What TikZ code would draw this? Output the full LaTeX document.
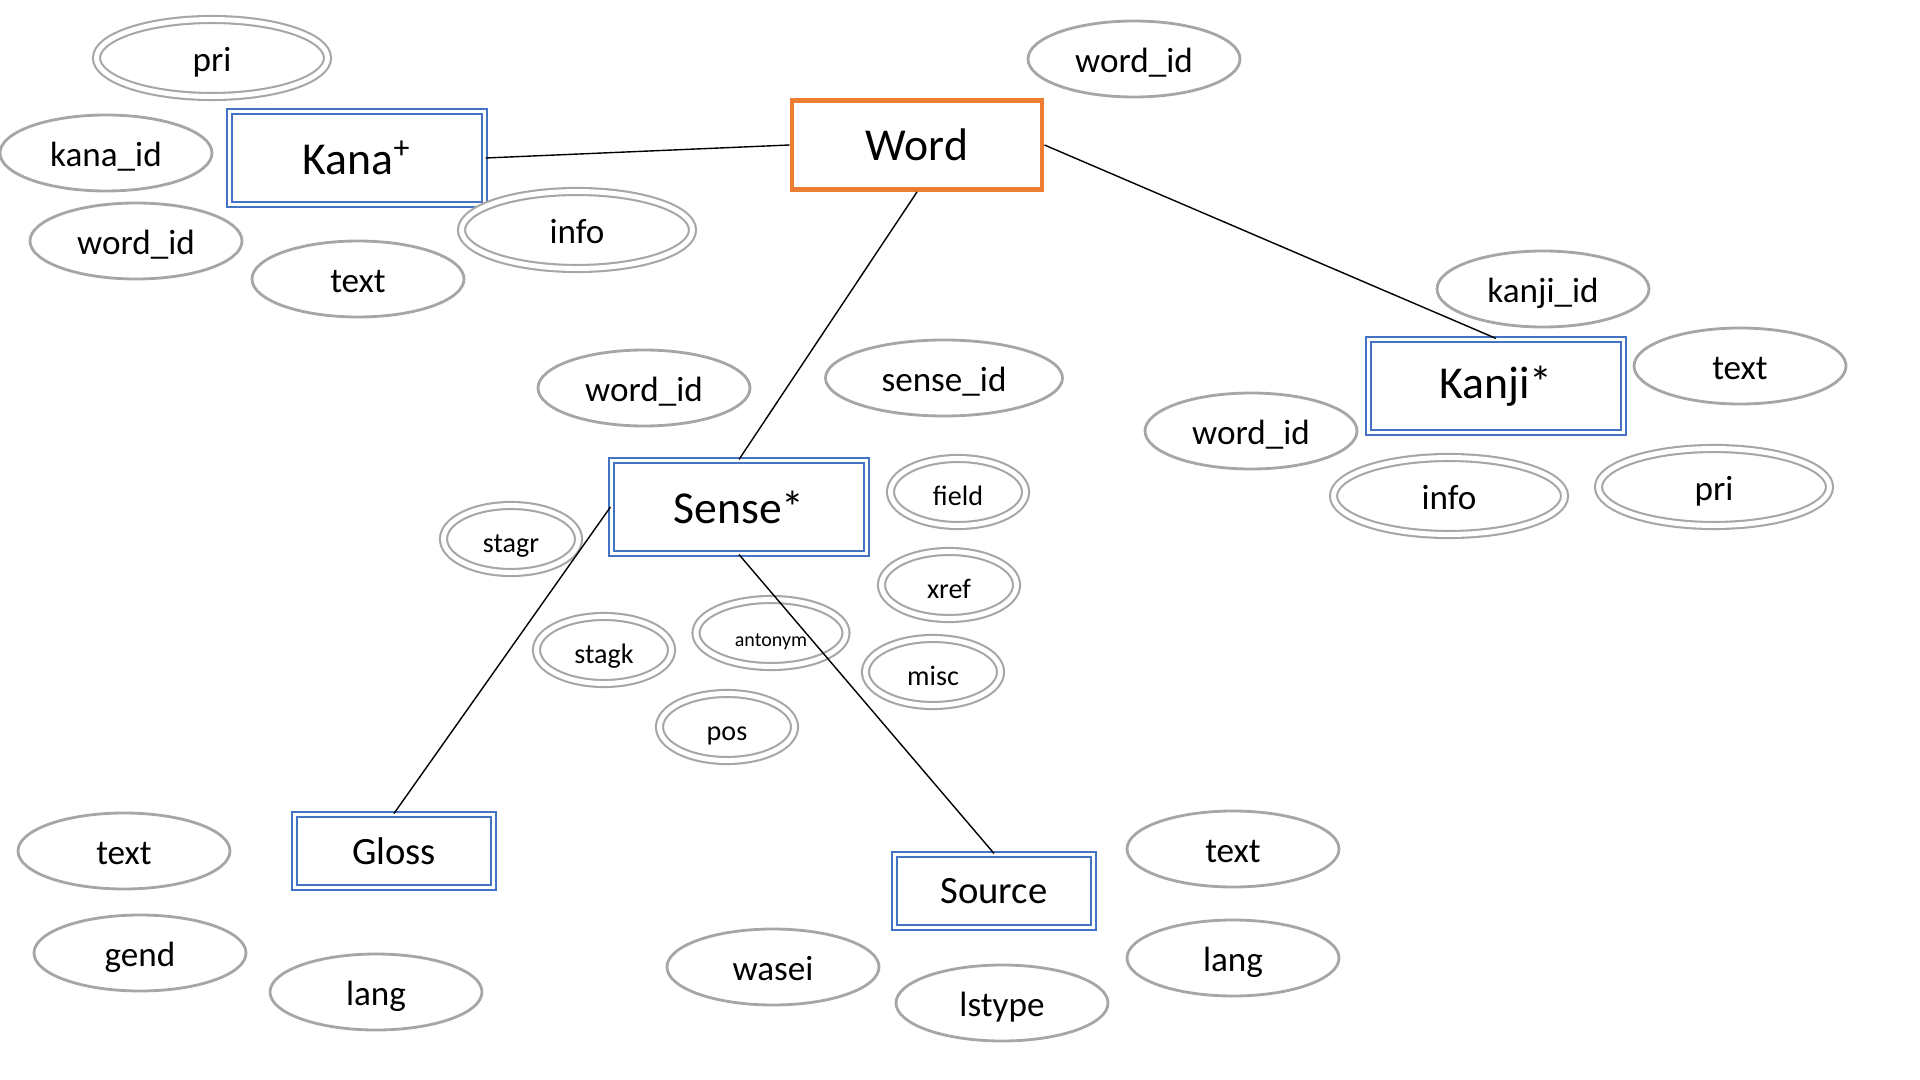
\documentclass[tikz,border=0pt]{standalone}
\usepackage{fontspec}
\setmainfont{Carlito}
\usetikzlibrary{shapes.geometric}
\definecolor{boxblue}{HTML}{4472C4}
\definecolor{wordorange}{HTML}{ED7D31}
\definecolor{attrgray}{HTML}{A6A6A6}

\begin{document}
\begin{tikzpicture}[
    entity/.style={rectangle, draw=boxblue, double, double distance=0.9pt, line width=0.6pt,
      minimum width=2.55cm, minimum height=0.93cm, font=\fontsize{13}{15}\selectfont},
    smallentity/.style={entity, minimum width=1.99cm, minimum height=0.73cm, font=\fontsize{11}{13}\selectfont},
    attr/.style={ellipse, draw=attrgray, line width=0.8pt, inner sep=0pt,
      minimum width=2.12cm, minimum height=0.76cm, text height=0.9em, text depth=0.15em,
      font=\fontsize{10}{12}\selectfont},
    multiattr/.style={attr, double, double distance=1.4pt, line width=0.6pt,
      minimum width=2.31cm, minimum height=0.77cm},
    smallattr/.style={multiattr, minimum width=1.35cm, minimum height=0.67cm, font=\fontsize{8}{10}\selectfont},
    link/.style={draw, line width=0.4pt}
  ]
  \useasboundingbox (0,0) rectangle (19.2,-10.8);
  % Entities
  \node[rectangle, draw=wordorange, line width=1.4pt, minimum width=2.5cm, minimum height=0.89cm,
    font=\fontsize{13}{15}\selectfont] (word) at (9.17,-1.45) {Word};
  \node[entity] (kana) at (3.57,-1.58) {Kana\textsuperscript{+}};
  \node[entity] (kanji) at (14.96,-3.86) {Kanji*};
  \node[entity] (sense) at (7.39,-5.07) {Sense*};
  \node[smallentity] (gloss) at (3.94,-8.51) {Gloss};
  \node[smallentity] (source) at (9.94,-8.91) {Source};
  % Attributes of Word and Kana
  \node[attr] (wordId) at (11.34,-0.59) {word\_id};
  \node[multiattr] (kanaPri) at (2.12,-0.58) {pri};
  \node[attr] (kanaId) at (1.06,-1.53) {kana\_id};
  \node[attr] (kanaWord) at (1.36,-2.41) {word\_id};
  \node[attr] (kanaText) at (3.58,-2.79) {text};
  \node[multiattr] (kanaInfo) at (5.77,-2.30) {info};
  % Attributes of Kanji
  \node[attr] (kanjiId) at (15.43,-2.89) {kanji\_id};
  \node[attr] (kanjiText) at (17.40,-3.66) {text};
  \node[attr] (kanjiWord) at (12.51,-4.31) {word\_id};
  \node[multiattr] (kanjiInfo) at (14.49,-4.96) {info};
  \node[multiattr] (kanjiPri) at (17.14,-4.87) {pri};
  % Attributes of Sense
  \node[attr] (senseWord) at (6.44,-3.88) {word\_id};
  \node[attr, minimum width=2.37cm] (senseId) at (9.44,-3.78) {sense\_id};
  \node[smallattr] (stagr) at (5.11,-5.39) {stagr};
  \node[smallattr] (field) at (9.58,-4.92) {field};
  \node[smallattr] (xref) at (9.49,-5.85) {xref};
  \node[smallattr] (stagk) at (6.04,-6.50) {stagk};
  \node[smallattr, minimum width=1.50cm, font=\fontsize{5.7}{7}\selectfont] (antonym) at (7.71,-6.33) {antonym};
  \node[smallattr] (misc) at (9.33,-6.72) {misc};
  \node[smallattr] (pos) at (7.27,-7.27) {pos};
  % Attributes of Gloss and Source
  \node[attr] (glossText) at (1.24,-8.51) {text};
  \node[attr] (gend) at (1.40,-9.53) {gend};
  \node[attr] (glossLang) at (3.76,-9.92) {lang};
  \node[attr] (sourceText) at (12.33,-8.49) {text};
  \node[attr] (sourceLang) at (12.33,-9.58) {lang};
  \node[attr] (wasei) at (7.73,-9.67) {wasei};
  \node[attr] (lstype) at (10.02,-10.03) {lstype};
  % Relations
  \draw[link] (kana.east) -- (word.west);
  \draw[link] (word.east) -- (kanji.north);
  \draw[link] (word.south) -- (sense.north);
  \draw[link] (sense.west) -- (gloss.north);
  \draw[link] (sense.south) -- (source.north);
\end{tikzpicture}
\end{document}
